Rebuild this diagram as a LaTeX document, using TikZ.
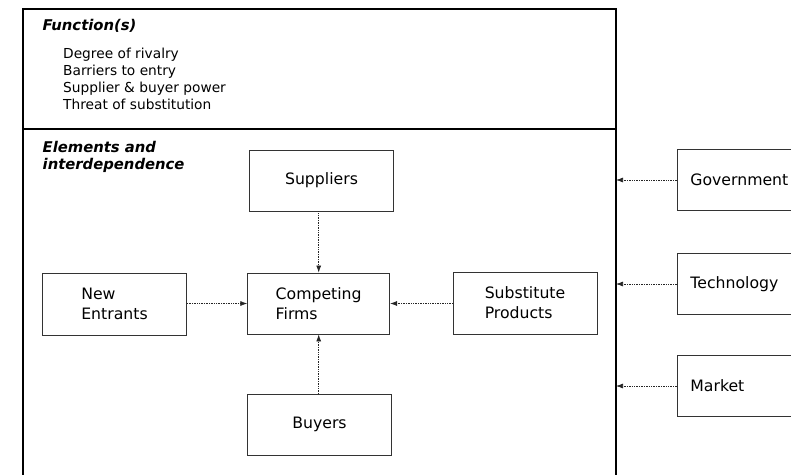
\documentclass[tikz,border=0pt]{standalone}
\usepackage{fontspec}
\setmainfont{DejaVu Sans}[ItalicFont={DejaVu Sans Oblique},
    BoldFont={DejaVu Sans Bold},BoldItalicFont={DejaVu Sans Bold Oblique}]
\usetikzlibrary{arrows.meta,positioning}

\begin{document}
\begin{tikzpicture}[
    x=1pt,y=-1pt,
    frame/.style={draw=black,line width=1.1pt},
    block/.style={draw=black!80,line width=0.8pt,minimum width=144pt,
        minimum height=61pt,align=left,inner sep=0pt,
        font=\fontsize{15.7}{20}\selectfont},
    side/.style={block,anchor=west,text width=120pt,inner sep=13pt,
        minimum width=0pt},
    heading/.style={anchor=north west,inner sep=0pt,align=left,
        font=\fontsize{14.8}{16.7}\selectfont\bfseries\itshape},
    items/.style={anchor=north west,inner sep=0pt,align=left,
        font=\fontsize{13.75}{17}\selectfont},
    link/.style={densely dotted,draw=black!85,line width=0.7pt,
        -{Latex[length=7pt,width=5pt]}}
]
    \useasboundingbox (0,0) rectangle (791,474);
    \clip (0,0) rectangle (791,474);

    % outer frame, split in two parts
    \draw[frame] (23,9) rectangle (616,500);
    \draw[frame] (23,129) -- (616,129);
    \coordinate (edge) at (616,9);

    \node[heading] (func-title) at (42.5,19.5) {Function(s)};
    \node[items] (func-list) at (63,47.5) {Degree of rivalry\\
        Barriers to entry\\Supplier \& buyer power\\Threat of substitution};
    \node[heading] (elem-title) at (42.5,141) {Elements and\\interdependence};

    % the five forces
    \node[block] (suppliers) at (321.5,180.5) {Suppliers};
    \node[block,minimum width=142pt] (firms) at (318.7,303.5) {Competing\\Firms};
    \node[block,minimum height=62pt] (entrants) at (114.5,304) {New\\Entrants};
    \node[block,minimum height=62pt] (substitutes) at (525,303) {Substitute\\Products};
    \node[block] (buyers) at (319.5,424.5) {Buyers};

    \draw[link] (suppliers.south -| firms.north) -- (firms.north);
    \draw[link] (buyers.north -| firms.south) -- (firms.south);
    \draw[link] (entrants.east |- firms.west) -- (firms.west);
    \draw[link] (substitutes.west |- firms.east) -- (firms.east);

    % outside influences
    \node[side] (government) at (677,180) {Government};
    \node[side] (technology) at (677,284) {Technology};
    \node[side] (market) at (677,386) {Market};

    \foreach \outer in {government,technology,market}
        \draw[link] (\outer.west) -- (\outer.west -| edge);

\end{tikzpicture}
\end{document}
